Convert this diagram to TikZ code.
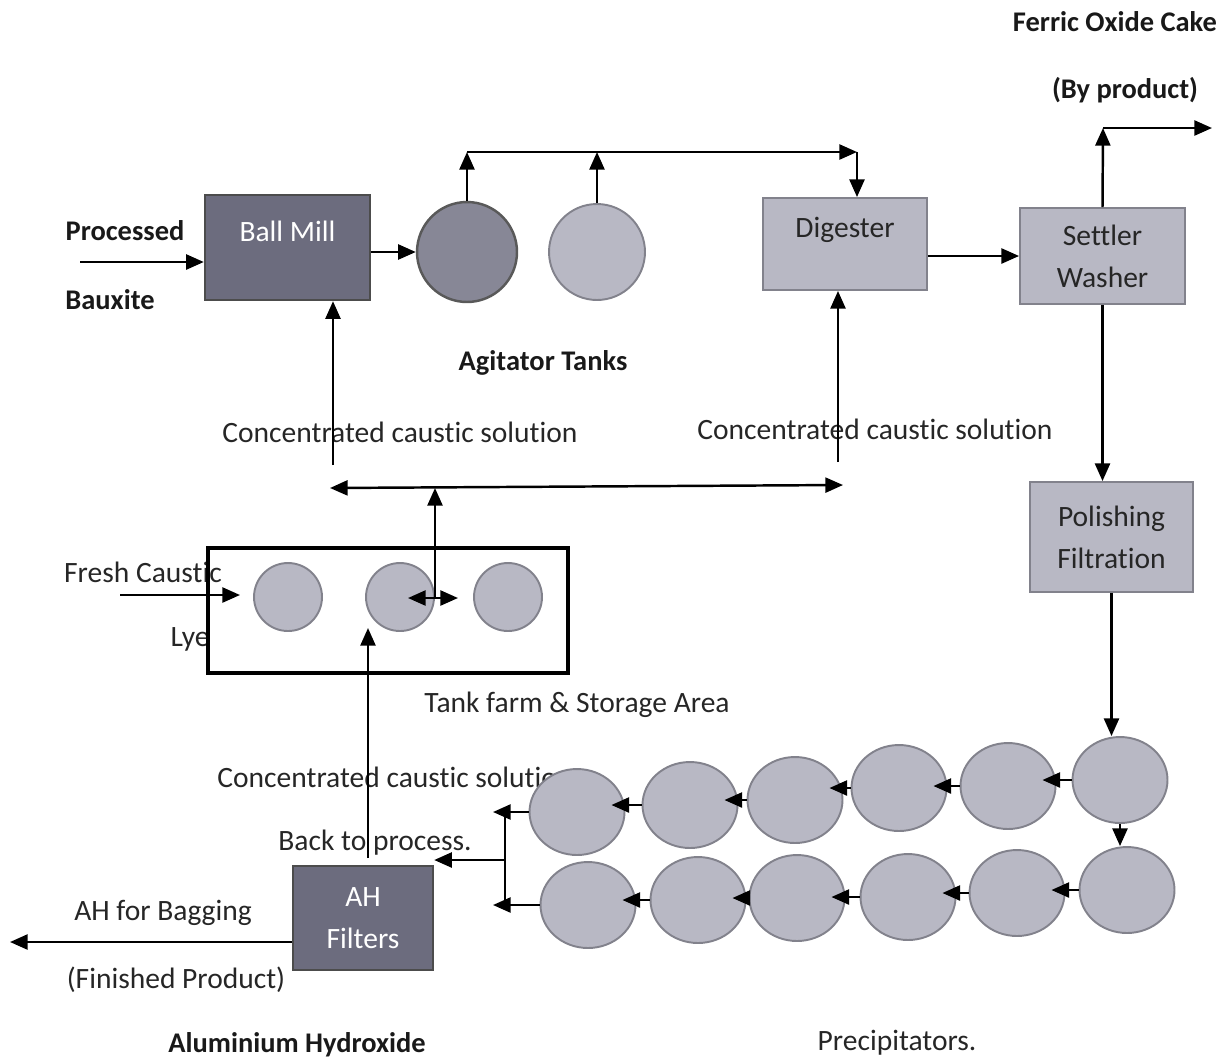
\documentclass[tikz,border=0pt]{standalone}
\usepackage{fontspec}
\setmainfont{Carlito}[Ligatures=NoCommon]
\usetikzlibrary{arrows.meta,shapes.geometric,calc,positioning}

\definecolor{darkfill}{HTML}{6C6C7E}
\definecolor{lightfill}{HTML}{B8B8C4}
\definecolor{edgegray}{HTML}{82828C}

\tikzset{
  arr/.style={-{Triangle[length=10pt,width=8.5pt]}, line width=1.4pt},
  dblarr/.style={{Triangle[length=10pt,width=8.5pt]}-{Triangle[length=10pt,width=8.5pt]}, line width=1.4pt},
  lbl/.style={font=\fontsize{16.8}{19}\selectfont, text=black!85},
  blbl/.style={font=\fontsize{16.2}{19}\selectfont\bfseries, text=black!90},
  darkbox/.style={rectangle, draw=black!70, line width=1.4pt, fill=darkfill, text=white,
    font=\fontsize{16.8}{24}\selectfont, align=center, inner sep=0pt},
  lightbox/.style={rectangle, draw=edgegray, line width=1.1pt, fill=lightfill, text=black!85,
    font=\fontsize{16.8}{24}\selectfont, align=center, inner sep=0pt},
  tank/.style={circle, draw=edgegray, line width=1.1pt, fill=lightfill, inner sep=0pt},
  prec/.style={ellipse, draw=edgegray, line width=1.1pt, fill=lightfill, inner sep=0pt,
    minimum width=1.9cm, minimum height=1.72cm}
}

\begin{document}
\begin{tikzpicture}[x=0.02cm, y=-0.02cm]
    \useasboundingbox (0,0) rectangle (1227,1059);

    % labels
    \node[blbl] (ferric) at (1115,22) {Ferric Oxide Cake};
    \node[blbl] (byprod) at (1125,90) {(By product)};
    \node[blbl] (proc) at (125,231) {Processed};
    \node[blbl] (baux) at (110,300) {Bauxite};
    \node[blbl] (agitlbl) at (543,363) {Agitator Tanks};
    \node[lbl] (cc1) at (400,432) {Concentrated caustic solution};
    \node[lbl] (cc2) at (875,429) {Concentrated caustic solution};
    \node[lbl] (freshlbl) at (143,572) {Fresh Caustic};
    \node[lbl] (lye) at (190,639) {Lye};
    \node[lbl] (farmlbl) at (577,705) {Tank farm \& Storage Area};
    \node[lbl] (cc3) at (395,777) {Concentrated caustic solution};
    \node[lbl] (backlbl) at (375,843) {Back to process.};
    \node[lbl] (baglbl) at (163,913) {AH for Bagging};
    \node[lbl] (finlbl) at (176,980) {(Finished Product)};
    \node[blbl] (alhyd) at (297,1045) {Aluminium Hydroxide};
    \node[lbl] (preclbl) at (897,1043) {Precipitators.};

    % units
    \node[darkbox, minimum width=3.3cm, text height=0.92cm, text depth=1.18cm] (mill) at (287.5,247.5) {Ball Mill};
    \node[tank, draw=black!65, line width=1.4pt, fill=darkfill!65!lightfill, minimum size=2cm] (agit1) at (467,252) {};
    \node[tank, minimum size=1.92cm] (agit2) at (597,252) {};
    \node[lightbox, minimum width=3.28cm, text height=0.78cm, text depth=1.06cm] (dig) at (845,244) {Digester};
    \node[lightbox, minimum width=3.3cm, minimum height=1.92cm] (settler) at (1102.5,256) {Settler\\Washer};
    \node[lightbox, minimum width=3.26cm, minimum height=2.2cm] (polish) at (1111.5,537) {Polishing\\Filtration};
    \node[draw, line width=2.4pt, minimum width=7.2cm, minimum height=2.5cm] (farm) at (388,610.5) {};
    \foreach \n/\x in {1/288, 2/400, 3/508}
        \node[tank, minimum size=1.36cm] (ft\n) at (\x,597) {};
    \node[darkbox, minimum width=2.8cm, minimum height=2.08cm] (ahf) at (363,918) {AH\\Filters};
    \foreach \n/\x/\y in {1/577/812, 2/690/805, 3/795/800, 4/899/788, 5/1008/786, 6/1120/780}
        \node[prec] (pt\n) at (\x,\y) {};
    \foreach \n/\x/\y in {1/588/905, 2/698/900, 3/797/898, 4/908/897, 5/1017/893, 6/1127/890}
        \node[prec] (pb\n) at (\x,\y) {};

    % points for the lines
    \coordinate (feed) at (80,262);
    \coordinate (hdr) at (857,152);
    \coordinate (byp) at (1103,128);
    \coordinate (byout) at (1212,128);
    \coordinate (cl) at (330,488);
    \coordinate (cr) at (843,485);
    \coordinate (cm) at (333,465);
    \coordinate (cd) at (838,462);
    \coordinate (fj) at (435,598);
    \coordinate (fa) at (408,598);
    \coordinate (fb) at (458,598);
    \coordinate (fresh) at (120,595);
    \coordinate (freshend) at (240,595);
    \coordinate (back) at (368,858);
    \coordinate (backend) at (368,628);
    \coordinate (bag) at (10,942);
    \coordinate (tipx) at (493,0);
    \coordinate (vx) at (505,860);

    % top line
    \draw[arr] (feed) -- (feed -| mill.west);
    \draw[arr] (mill.east |- agit1.west) -- (agit1.west);
    \draw[arr] (agit1.north) -- (agit1.north |- hdr);
    \draw[arr] (agit2.north) -- (agit2.north |- hdr);
    \draw[arr] (agit1.north |- hdr) -- (hdr);
    \draw[arr] (hdr) -- (hdr |- dig.north);
    \draw[arr] (settler.west -| dig.east) -- (settler.west);
    \draw[arr] (settler.north) -- (byp);
    \draw[arr] (byp) -- (byout);
    \draw[arr] (settler.south) -- (settler.south |- polish.north);
    \draw[arr] (polish.south) -- (polish.south |- pt6.north);

    % caustic lines
    \draw[dblarr] (cl) -- (cr);
    \draw[arr] (cm) -- (cm |- mill.south);
    \draw[arr] (cd) -- (cd |- dig.south);
    \draw[arr] (fj) -- (fj |- cl);
    \draw[dblarr] (fa) -- (fb);
    \draw[arr] (fresh) -- (freshend);
    \draw[arr] (back) -- (backend);

    % precipitators
    \foreach \a/\b in {6/5, 5/4, 4/3, 3/2, 2/1} {
        \draw[arr] (pt\a.west) -- ($(pt\b.east |- pt\a.west)+(-14,0)$);
        \draw[arr] (pb\a.west) -- ($(pb\b.east |- pb\a.west)+(-14,0)$);
    }
    \draw[arr] (pt6.south) -- (pt6.south |- pb6.north);
    \draw[arr] (pt1.west) -- (pt1.west -| tipx);
    \draw[arr] (pb1.west) -- (pb1.west -| tipx);
    \draw[line width=1.4pt] (pt1.west -| vx) -- (pb1.west -| vx);
    \draw[arr] (vx) -- (vx -| ahf.east);
    \draw[arr] (ahf.west |- bag) -- (bag);
\end{tikzpicture}
\end{document}
